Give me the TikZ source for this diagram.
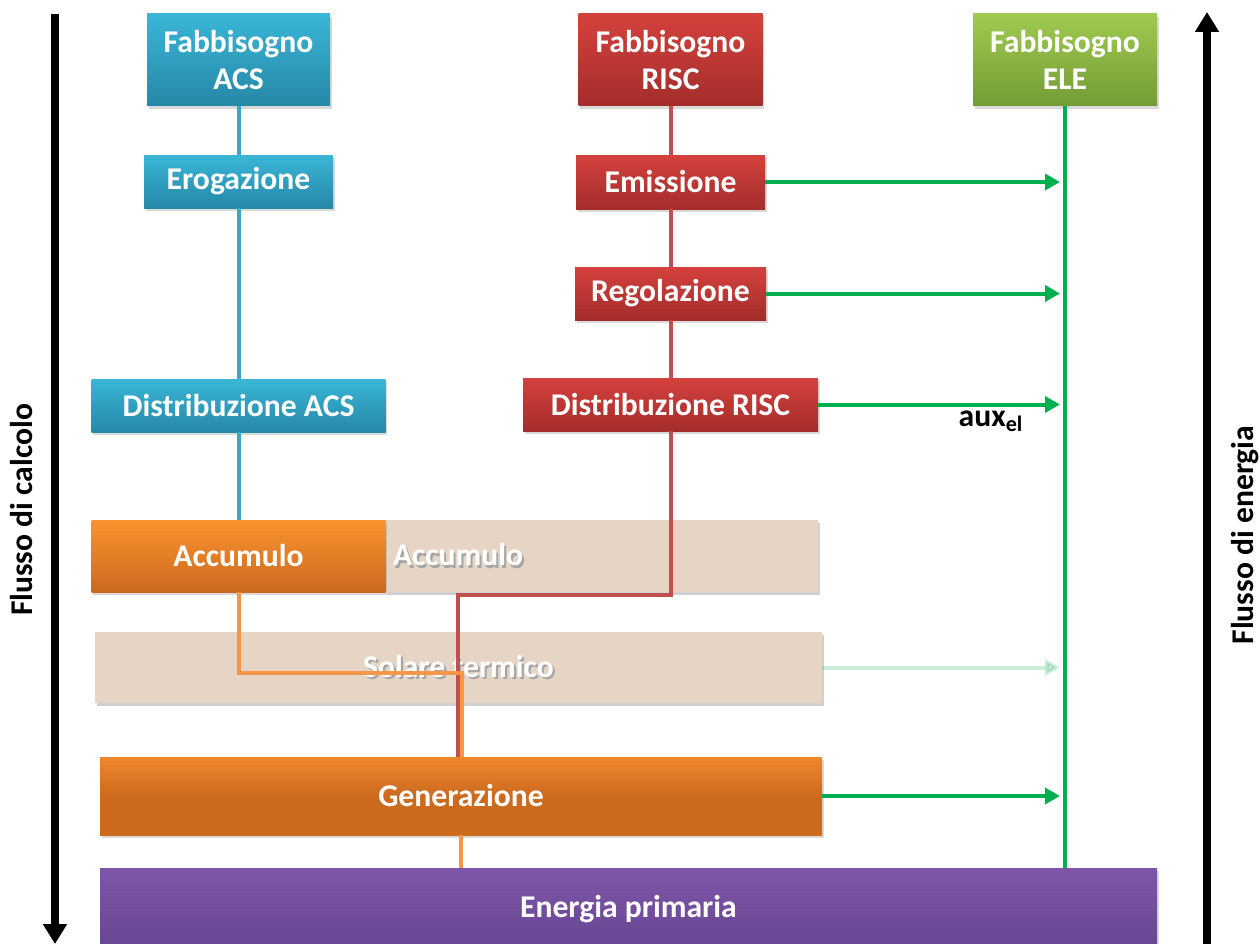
\documentclass[tikz,border=0pt]{standalone}
\usepackage{fontspec}
\setmainfont{Carlito}
\usetikzlibrary{arrows.meta,shadows}

\definecolor{acsTop}{RGB}{58,182,215}
\definecolor{acsBot}{RGB}{38,135,166}
\definecolor{riscTop}{RGB}{212,65,61}
\definecolor{riscBot}{RGB}{163,45,43}
\definecolor{eleTop}{RGB}{160,202,80}
\definecolor{eleBot}{RGB}{116,156,54}
\definecolor{accTop}{RGB}{250,148,48}
\definecolor{accBot}{RGB}{204,104,30}
\definecolor{genTop}{RGB}{240,135,45}
\definecolor{genMid}{RGB}{204,106,30}
\definecolor{primTop}{RGB}{126,86,168}
\definecolor{primBot}{RGB}{102,70,146}
\definecolor{bandFill}{RGB}{230,213,196}
\definecolor{acsLine}{RGB}{58,168,200}
\definecolor{riscLine}{RGB}{192,80,77}
\definecolor{accLine}{RGB}{247,150,70}
\definecolor{eleLine}{RGB}{0,176,80}

% white text with a soft shadow, for the faded bands
\newcommand{\ghosttext}[1]{\makebox[0pt][l]{\hspace{1.2pt}\raisebox{-1.4pt}{\color{black!35}#1}}#1}

\tikzset{
    box/.style={rectangle, align=center, text=white, inner sep=0pt,
        font=\bfseries\fontsize{18}{21.5}\selectfont,
        drop shadow={shadow xshift=0.03cm, shadow yshift=-0.06cm, opacity=0.3}},
    acsbox/.style={box, top color=acsTop, bottom color=acsBot},
    riscbox/.style={box, top color=riscTop, bottom color=riscBot},
    elebox/.style={box, top color=eleTop, bottom color=eleBot},
    accbox/.style={box, top color=accTop, bottom color=accBot},
    genbox/.style={box, top color=genTop, bottom color=genMid, middle color=genMid},
    primbox/.style={box, top color=primTop, bottom color=primBot},
    bandbox/.style={box, fill=bandFill,
        drop shadow={shadow xshift=0.03cm, shadow yshift=-0.05cm, opacity=0.1}},
    link/.style={line width=0.08cm},
    elearrow/.style={line width=0.08cm, eleLine, shorten >=0.1cm,
        -{Triangle[length=0.3cm,width=0.32cm]}},
    bigarrow/.style={line width=0.16cm, -{Triangle[length=0.4cm,width=0.46cm]}},
}

\begin{document}
\begin{tikzpicture}

    \useasboundingbox (0,0) rectangle (25.2,-18.88);

    % the faded bands
    \node[bandbox, minimum width=8.66cm, minimum height=1.44cm, inner xsep=0.16cm,
        text width=8.34cm, align=left] (accB) at (12.03,-11.12) {\ghosttext{Accumulo}};
    \node[bandbox, minimum width=14.54cm, minimum height=1.42cm] (sol) at (9.17,-13.35) {\ghosttext{Solare termico}};

    % the ACS column
    \node[acsbox, minimum width=3.66cm, minimum height=1.84cm] (fabACS) at (4.77,-1.2) {Fabbisogno\\ACS};
    \node[acsbox, minimum width=3.78cm, minimum height=1.06cm] (erog) at (4.77,-3.63) {Erogazione};
    \node[acsbox, minimum width=5.88cm, minimum height=1.06cm] (distACS) at (4.77,-8.11) {Distribuzione ACS};
    \node[accbox, minimum width=5.88cm, minimum height=1.44cm] (accA) at (4.77,-11.12) {Accumulo};

    % the RISC column
    \node[riscbox, minimum width=3.68cm, minimum height=1.84cm] (fabRISC) at (13.41,-1.2) {Fabbisogno\\RISC};
    \node[riscbox, minimum width=3.78cm, minimum height=1.08cm] (emis) at (13.41,-3.64) {Emissione};
    \node[riscbox, minimum width=3.82cm, minimum height=1.06cm] (regol) at (13.41,-5.87) {Regolazione};
    \node[riscbox, minimum width=5.9cm, minimum height=1.06cm] (distRISC) at (13.41,-8.09) {Distribuzione RISC};

    % the ELE box
    \node[elebox, minimum width=3.68cm, minimum height=1.84cm] (fabELE) at (21.3,-1.2) {Fabbisogno\\ELE};

    % generation and primary energy
    \node[genbox, minimum width=14.44cm, minimum height=1.56cm] (gen) at (9.22,-15.92) {Generazione};
    \node[primbox, minimum width=21.14cm, minimum height=1.64cm] (prim) at (12.57,-18.18) {Energia primaria};

    % ACS line
    \draw[link, acsLine] (fabACS.south) -- (erog.north);
    \draw[link, acsLine] (erog.south) -- (distACS.north);
    \draw[link, acsLine] (distACS.south) -- (accA.north);

    % RISC line
    \draw[link, riscLine] (fabRISC.south) -- (emis.north);
    \draw[link, riscLine] (emis.south) -- (regol.north);
    \draw[link, riscLine] (regol.south) -- (distRISC.north);
    \draw[link, riscLine] (distRISC.south) -- ++(0,-3.28) -| ([xshift=-0.06cm]gen.north);

    % line from Accumulo to Generazione, and on to primary energy
    \draw[link, accLine] (accA.south) -- ++(0,-1.62) -| ([xshift=0.02cm]gen.north);
    \draw[link, accLine] (gen.south) -- (prim.north -| gen.south);

    % ELE line and the auxiliary arrows
    \draw[link, eleLine] (fabELE.south) -- (prim.north -| fabELE.south);
    \draw[elearrow] (emis.east) -- (emis.east -| fabELE.south);
    \draw[elearrow] (regol.east) -- (regol.east -| fabELE.south);
    \draw[elearrow] (distRISC.east) -- (distRISC.east -| fabELE.south);
    \draw[elearrow, opacity=0.2] (sol.east) -- (sol.east -| fabELE.south);
    \draw[elearrow] (gen.east) -- (gen.east -| fabELE.south);
    \node[font=\bfseries\fontsize{18}{20}\selectfont] (auxLabel) at (19.82,-8.42) {aux\textsubscript{el}};

    % the two flow arrows
    \coordinate (calcTop) at (1.1,-0.28);
    \coordinate (calcEnd) at (1.1,-18.88);
    \draw[bigarrow] (calcTop) -- (calcEnd);
    \node[rotate=90, font=\bfseries\fontsize{18}{21.5}\selectfont] (calcLabel) at (0.44,-10.2) {Flusso di calcolo};

    \coordinate (enerBot) at (24.14,-18.88);
    \coordinate (enerTop) at (24.14,-0.24);
    \draw[bigarrow] (enerBot) -- (enerTop);
    \node[rotate=90, font=\bfseries\fontsize{18}{21.5}\selectfont] (enerLabel) at (24.9,-10.7) {Flusso di energia};

\end{tikzpicture}
\end{document}
